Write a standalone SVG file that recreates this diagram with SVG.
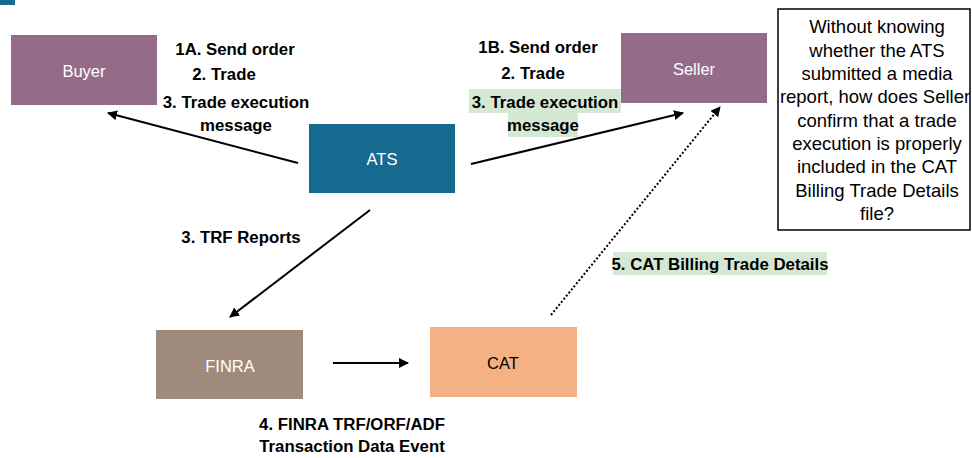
<svg xmlns="http://www.w3.org/2000/svg" width="972" height="458" viewBox="0 0 972 458">
<defs>
<marker id="ah" viewBox="0 0 10 10" refX="9" refY="5" markerWidth="5" markerHeight="5" orient="auto" markerUnits="strokeWidth">
<path d="M0,0 L10,5 L0,10 z" fill="#000"/>
</marker>
<style>
.node text{font-family:"Liberation Sans",Arial,sans-serif;font-size:16.5px;text-anchor:middle;dominant-baseline:central}
.lbl{font-family:"Liberation Sans",Arial,sans-serif;font-size:16.8px;font-weight:bold;text-anchor:middle;fill:#000}
.q{font-family:"Liberation Sans",Arial,sans-serif;font-size:18.5px;text-anchor:middle;fill:#000}
.hl{fill:#d5e8d4}
.conn{stroke:#000;stroke-width:2;fill:none;marker-end:url(#ah)}
</style>
</defs>
<rect width="972" height="458" fill="#fff"/>
<rect x="0" y="0" width="15" height="5" fill="#176a8f"/>

<g id="buyer" class="node"><rect x="11" y="35" width="146" height="70" fill="#956b8a"/><text x="84" y="71" fill="#fff">Buyer</text></g>
<g id="seller" class="node"><rect x="621" y="33" width="146" height="70" fill="#956b8a"/><text x="694" y="69" fill="#fff">Seller</text></g>
<g id="ats" class="node"><rect x="309" y="124" width="146" height="69" fill="#176a8f"/><text x="382" y="159" fill="#fff">ATS</text></g>
<g id="finra" class="node"><rect x="156" y="330" width="147" height="69" fill="#9e8b7c"/><text x="230" y="366" fill="#fff">FINRA</text></g>
<g id="cat" class="node"><rect x="430" y="327" width="147" height="70" fill="#f4b183"/><text x="503" y="363" fill="#000">CAT</text></g>

<g id="question">
<rect x="778" y="9" width="192" height="221" fill="#fff" stroke="#000" stroke-width="1.5"/>
<text class="q"><tspan x="877" y="33">Without knowing</tspan><tspan x="877" y="57">whether the ATS</tspan><tspan x="877" y="80">submitted a media</tspan><tspan x="875" y="103">report, how does Seller</tspan><tspan x="877" y="127">confirm that a trade</tspan><tspan x="877" y="150">execution is properly</tspan><tspan x="877" y="173">included in the CAT</tspan><tspan x="877" y="197">Billing Trade Details</tspan><tspan x="877" y="220">file?</tspan></text>
</g>

<g id="connectors">
<line class="conn" x1="298" y1="163" x2="108" y2="113"/>
<line class="conn" x1="471" y1="164" x2="683" y2="113"/>
<line class="conn" x1="370" y1="210" x2="230" y2="317"/>
<line class="conn" x1="333" y1="363" x2="408" y2="363"/>
<line class="conn" x1="551" y1="315" x2="720" y2="107" stroke-dasharray="2,2"/>
</g>

<g id="labels">
<text class="lbl" x="235" y="55">1A. Send order</text>
<text class="lbl" x="224" y="80">2. Trade</text>
<text class="lbl" x="236" y="108">3. Trade execution</text>
<text class="lbl" x="236" y="131">message</text>
<text class="lbl" x="538" y="53">1B. Send order</text>
<text class="lbl" x="533" y="79">2. Trade</text>
<rect class="hl" x="469" y="89" width="152" height="24"/>
<rect class="hl" x="508" y="113" width="70" height="24"/>
<text class="lbl" x="545" y="108">3. Trade execution</text>
<text class="lbl" x="543" y="131">message</text>
<text class="lbl" x="241" y="243">3. TRF Reports</text>
<text class="lbl" x="352" y="430">4. FINRA TRF/ORF/ADF</text>
<text class="lbl" x="352" y="452">Transaction Data Event</text>
<rect class="hl" x="613" y="252" width="214" height="23"/>
<text class="lbl" x="720" y="270">5. CAT Billing Trade Details</text>
</g>
</svg>
